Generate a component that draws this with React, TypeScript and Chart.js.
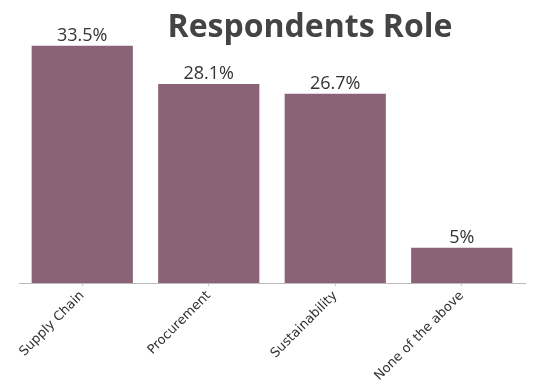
import React, { useEffect, useRef } from "react";
import { Chart, registerables } from "chart.js";

Chart.register(...registerables);

const categories = ["Supply Chain", "Procurement", "Sustainability", "None of the above"];
const values = [33.5, 28.1, 26.7, 5];
const titleText = "Respondents Role";

const BAR_COLOR = "#8a6379";

const valueLabels = {
  id: "valueLabels",
  afterDatasetsDraw(chart: any) {
    const ctx = chart.ctx;
    const meta = chart.getDatasetMeta(0);
    ctx.save();
    ctx.fillStyle = "#333333";
    ctx.font = "18px 'Open Sans', sans-serif";
    ctx.textAlign = "center";
    ctx.textBaseline = "bottom";
    meta.data.forEach((el: any, i: number) => {
      ctx.fillText(values[i] + "%", el.x, el.y - 1);
    });
    ctx.restore();
  },
};

const titlePlugin = {
  id: "customTitle",
  afterDraw(chart: any) {
    const ctx = chart.ctx;
    ctx.save();
    ctx.fillStyle = "#444444";
    ctx.font = "bold 32px 'Open Sans', sans-serif";
    ctx.textAlign = "center";
    ctx.textBaseline = "alphabetic";
    ctx.fillText(titleText, 310, 37);
    ctx.restore();
  },
};

export default function App() {
  const ref = useRef<HTMLCanvasElement>(null);
  useEffect(() => {
    document.body.style.margin = "0";
    const chart = new Chart(ref.current!, {
      type: "bar",
      data: {
        labels: categories,
        datasets: [
          {
            data: values,
            backgroundColor: BAR_COLOR,
            barPercentage: 0.8,
            categoryPercentage: 1,
          },
        ],
      },
      options: {
        animation: false,
        responsive: false,
        layout: { padding: { top: 35, right: 23, left: 19, bottom: 0 } },
        plugins: { legend: { display: false }, tooltip: { enabled: false }, title: { display: false } },
        scales: {
          x: {
            offset: true,
            grid: { display: true, drawOnChartArea: false, drawTicks: true, tickLength: 3, color: "#c8c8c8", offset: false },
            border: { color: "#bbbbbb" },
            ticks: {
              color: "#333333",
              font: { family: "'DejaVu Sans', sans-serif", size: 13 },
              maxRotation: 45,
              minRotation: 45,
              padding: 2,
            },
          },
          y: { display: false, min: 0, max: 35 },
        },
      },
      plugins: [valueLabels, titlePlugin],
    });
    return () => chart.destroy();
  }, []);
  return (
    <div style={{ position: "absolute", left: 0, top: 0, width: 548, height: 386 }}>
      <canvas ref={ref} width={548} height={386} />
    </div>
  );
}
